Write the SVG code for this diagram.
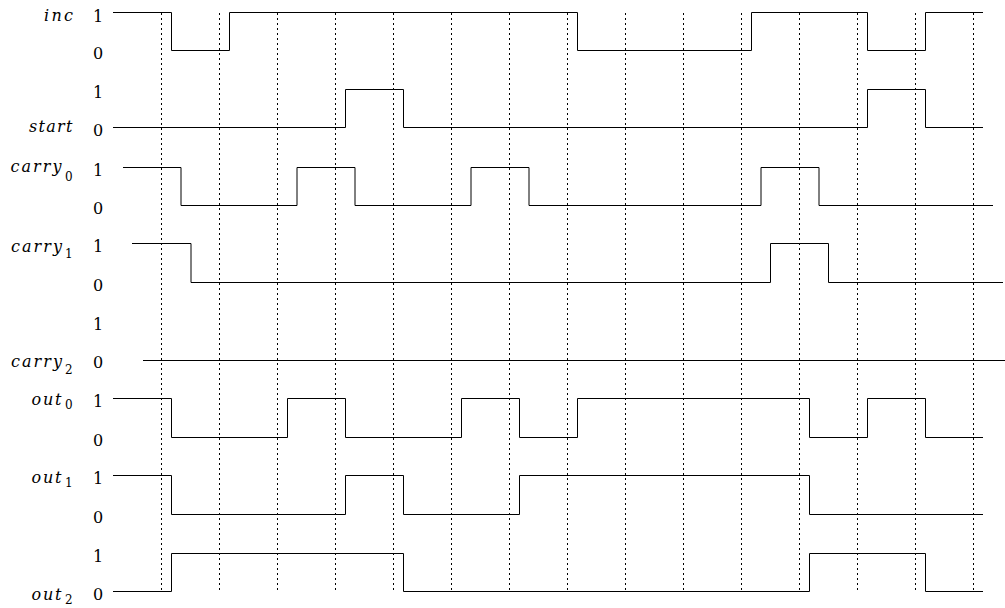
<svg xmlns="http://www.w3.org/2000/svg" width="1005" height="608" viewBox="0 0 1005 608">
<style>
.bg{fill:#ffffff}
.grid{stroke:#000;stroke-width:1;stroke-dasharray:2 3;fill:none}
.wave{stroke:#000;stroke-width:1;fill:none}
.lvl{font-family:'DejaVu Serif',serif;font-size:16px;fill:#000;text-anchor:middle}
.name{font-family:'DejaVu Serif',serif;font-style:italic;font-size:16px;fill:#000}
.sub{font-family:'DejaVu Serif',serif;font-size:12px;fill:#000}
</style>
<rect class="bg" x="0" y="0" width="1005" height="608"/>
<g id="grid">
<path class="grid" d="M161.5,13V592 M219.5,13V592 M277.5,13V592 M335.5,13V592 M393.5,13V592 M451.5,13V592 M509.5,13V592 M567.5,13V592 M625.5,13V592 M683.5,13V592 M741.5,13V592 M799.5,13V592 M857.5,13V592 M915.5,13V592 M973.5,13V592"/>
</g>
<g id="levels">
<text class="lvl" x="98" y="21.5">1</text>
<text class="lvl" x="98" y="59">0</text>
<text class="lvl" x="98" y="98">1</text>
<text class="lvl" x="98" y="136">0</text>
<text class="lvl" x="98" y="176">1</text>
<text class="lvl" x="98" y="214">0</text>
<text class="lvl" x="98" y="252">1</text>
<text class="lvl" x="98" y="291">0</text>
<text class="lvl" x="98" y="330">1</text>
<text class="lvl" x="98" y="368">0</text>
<text class="lvl" x="98" y="407">1</text>
<text class="lvl" x="98" y="446">0</text>
<text class="lvl" x="98" y="484">1</text>
<text class="lvl" x="98" y="523">0</text>
<text class="lvl" x="98" y="562">1</text>
<text class="lvl" x="98" y="600">0</text>
</g>
<g id="inc">
<text class="name" x="44" y="21" textLength="29" lengthAdjust="spacing">inc</text>
<path class="wave" d="M113,12.5H171.5V50.5H229.5V12.5H577.5V50.5H751.5V12.5H867.5V50.5H925.5V12.5H983"/>
</g>
<g id="start">
<text class="name" x="29" y="132" textLength="43.5" lengthAdjust="spacing">start</text>
<path class="wave" d="M113,127.5H345.5V89.5H403.5V127.5H867.5V89.5H925.5V127.5H983"/>
</g>
<g id="carry0">
<text class="name" x="10.5" y="172" textLength="51" lengthAdjust="spacing">carry</text>
<text class="sub" x="65" y="181">0</text>
<path class="wave" d="M123,167.5H181V205.5H297V167.5H355V205.5H471V167.5H529V205.5H761V167.5H819V205.5H993"/>
</g>
<g id="carry1">
<text class="name" x="11" y="251.5" textLength="51" lengthAdjust="spacing">carry</text>
<text class="sub" x="65" y="258">1</text>
<path class="wave" d="M132,243.5H191V282.5H770.5V243.5H828.5V282.5H1003"/>
</g>
<g id="carry2">
<text class="name" x="11" y="367" textLength="51" lengthAdjust="spacing">carry</text>
<text class="sub" x="65" y="374">2</text>
<path class="wave" d="M143,360.5H1005"/>
</g>
<g id="out0">
<text class="name" x="31.5" y="405" textLength="30" lengthAdjust="spacing">out</text>
<text class="sub" x="65" y="408.5">0</text>
<path class="wave" d="M113,398.5H171.5V437.5H287.5V398.5H345.5V437.5H461.5V398.5H519.5V437.5H577.5V398.5H809.5V437.5H867.5V398.5H925.5V437.5H983"/>
</g>
<g id="out1">
<text class="name" x="31.5" y="483" textLength="30" lengthAdjust="spacing">out</text>
<text class="sub" x="65" y="486.5">1</text>
<path class="wave" d="M113,475.5H171.5V514.5H345.5V475.5H403.5V514.5H519.5V475.5H809.5V514.5H983"/>
</g>
<g id="out2">
<text class="name" x="31.5" y="600" textLength="30" lengthAdjust="spacing">out</text>
<text class="sub" x="65" y="603.5">2</text>
<path class="wave" d="M113,591.5H171.5V553.5H403.5V591.5H809.5V553.5H925.5V591.5H983"/>
</g>
</svg>
